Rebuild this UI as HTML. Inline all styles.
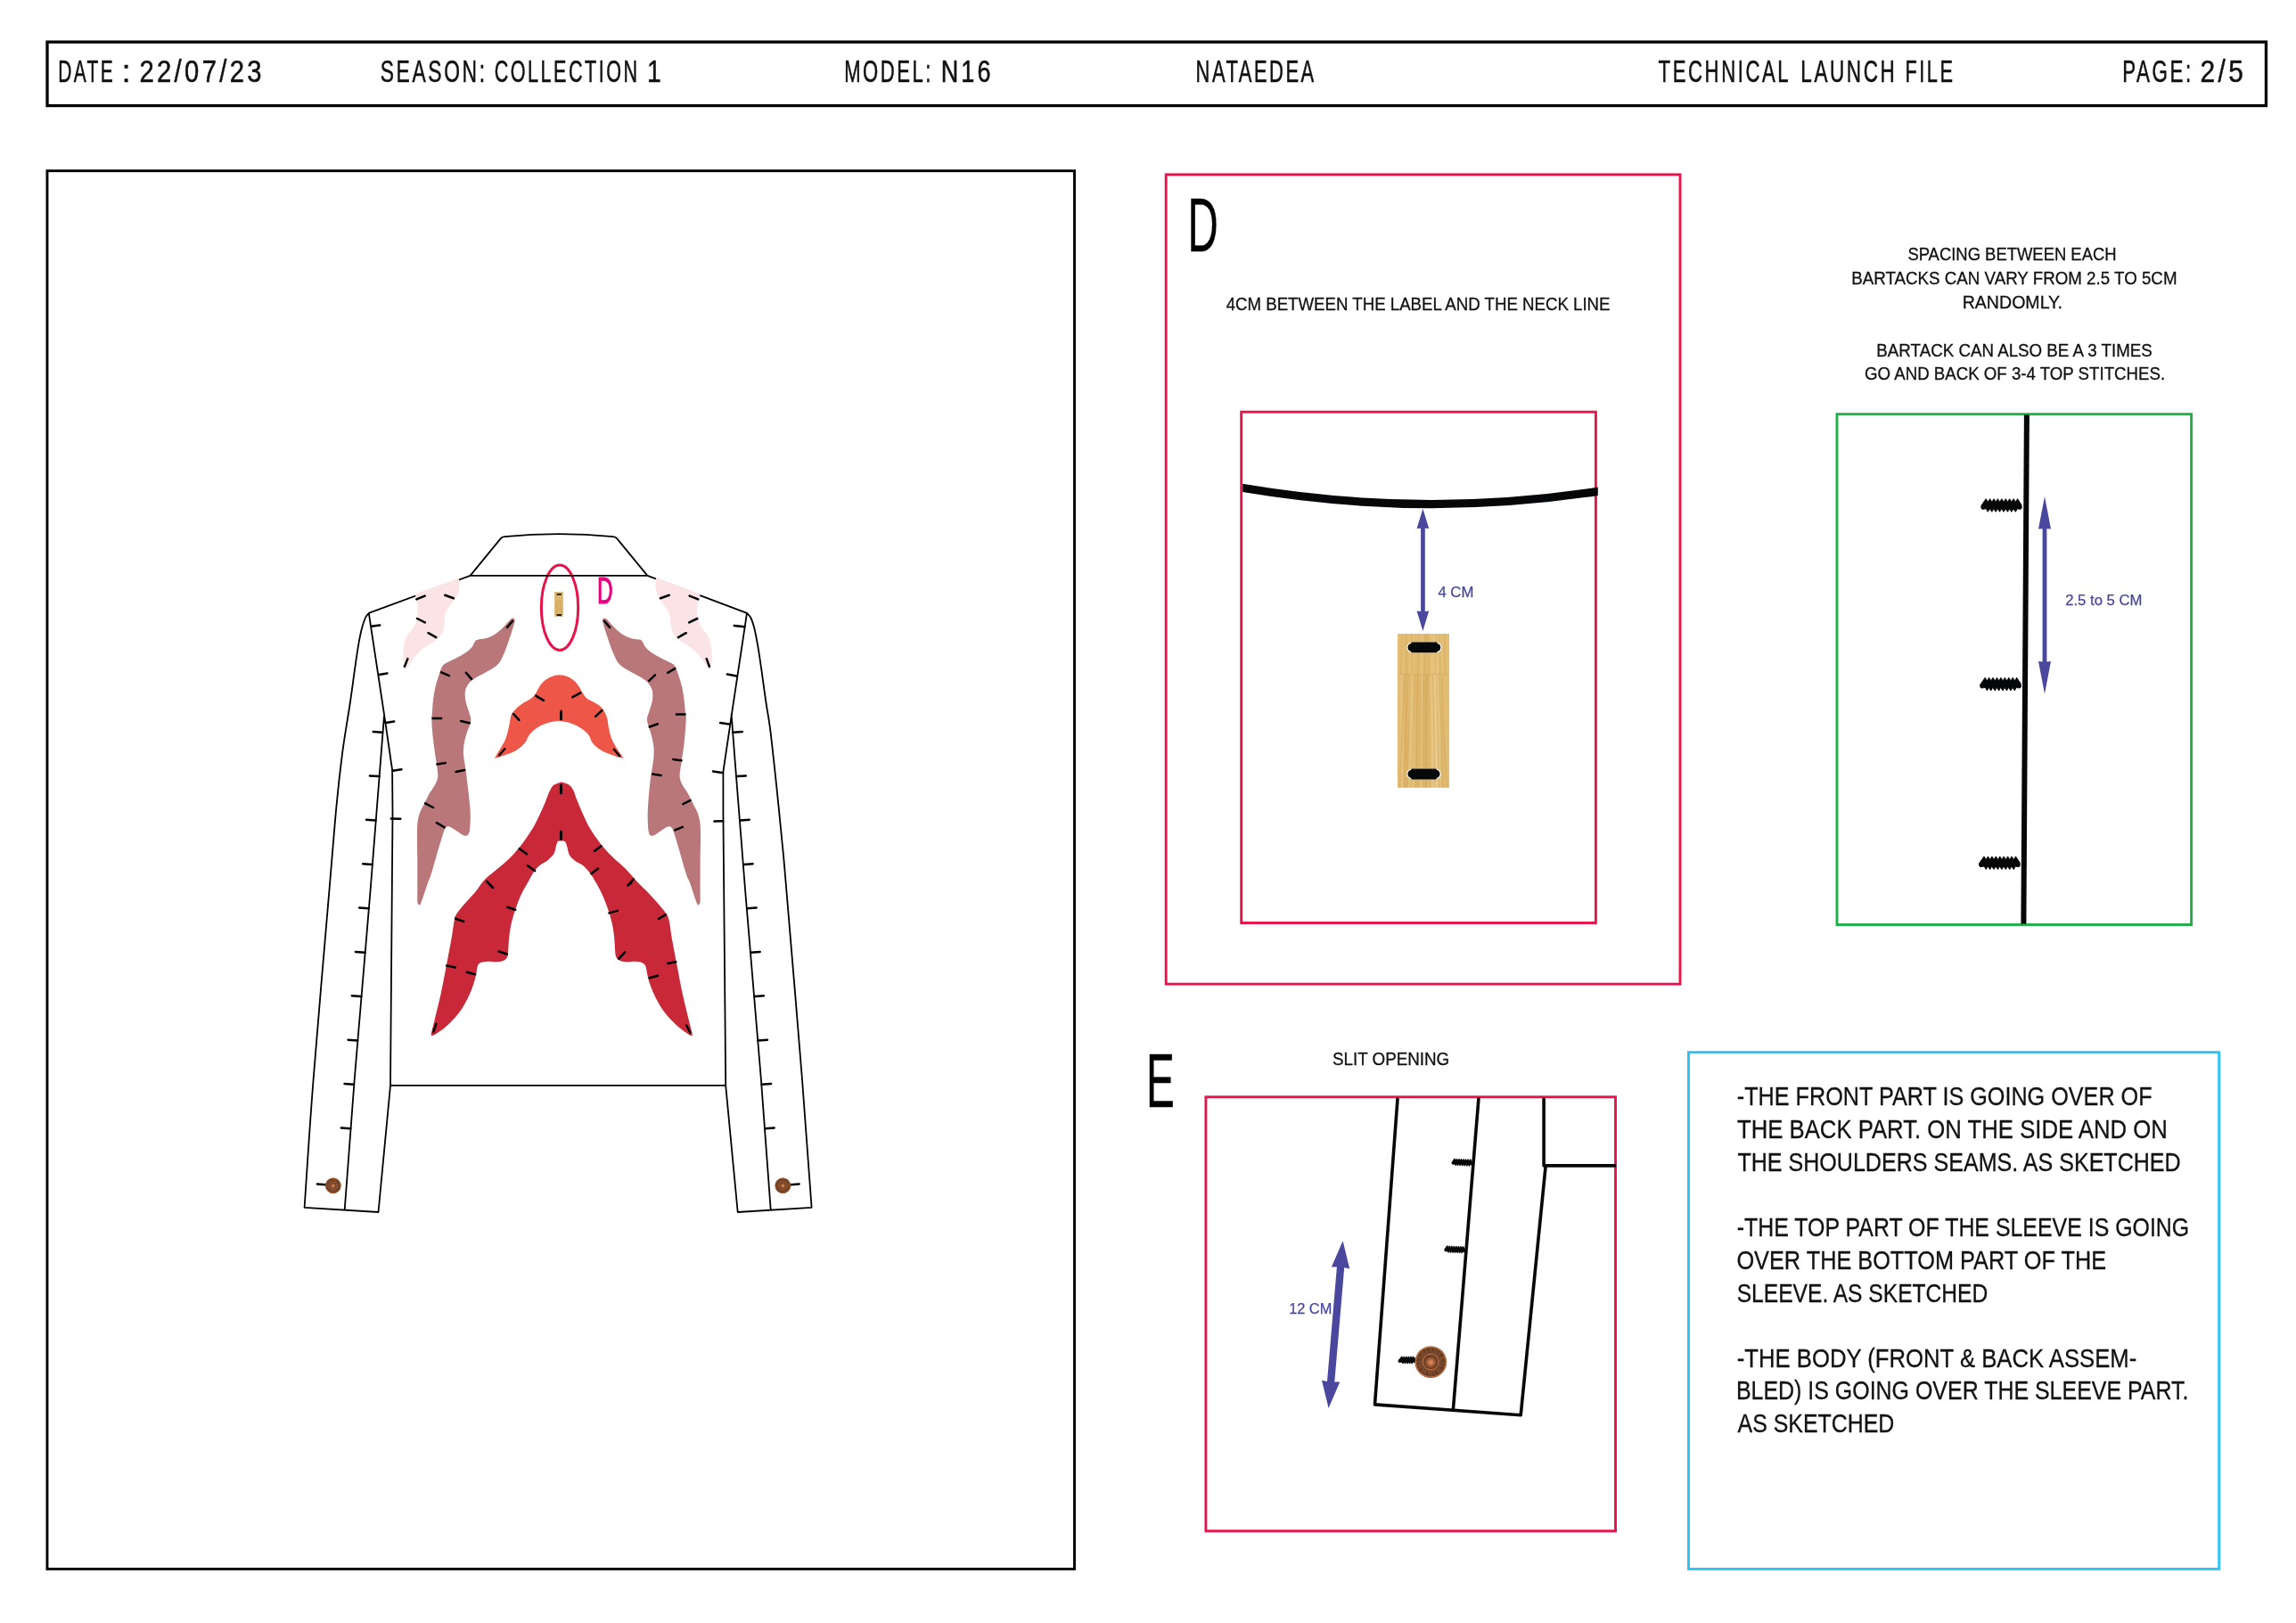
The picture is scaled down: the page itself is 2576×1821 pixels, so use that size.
<!DOCTYPE html>
<html lang="en">
<head>
<meta charset="utf-8">
<title>NATAEDEA - Technical Launch File - N16 - Page 2/5</title>
<style>
html,body{margin:0;padding:0;background:#fff;}
body{width:2576px;height:1821px;overflow:hidden;}
svg{display:block;will-change:transform;}
.hd{font-family:"Liberation Sans",sans-serif;letter-spacing:4px;fill:#111;stroke:#111;stroke-width:.55px;}
.tx{font-family:"Liberation Sans",sans-serif;fill:#111;stroke:#111;stroke-width:.3px;}
.pv{font-family:"Liberation Sans",sans-serif;fill:#48479c;stroke:#48479c;stroke-width:.25px;}
</style>
</head>
<body>
<svg width="2576" height="1821" viewBox="0 0 2576 1821">
<rect width="2576" height="1821" fill="#fff"/>
<!-- ===== HEADER ===== -->
<g id="header">
<rect x="53" y="47.1" width="2489.45" height="71.45" fill="none" stroke="#000" stroke-width="3.3"/>
</g>
<!-- ===== FRAMES ===== -->
<g id="frames" fill="none">
<rect x="52.95" y="191.7" width="1152.55" height="1568.7" stroke="#000" stroke-width="2.9"/>
<rect x="1308.2" y="195.9" width="576.8" height="908.2" stroke="#e9124a" stroke-width="2.9"/>
<rect x="1392.7" y="462.2" width="397.7" height="573.3" stroke="#e9124a" stroke-width="2.9"/>
<rect x="2061" y="464.7" width="397.6" height="572.8" stroke="#20ae47" stroke-width="2.9"/>
<rect x="1352.9" y="1230.8" width="459.6" height="487" stroke="#e9124a" stroke-width="2.9"/>
<rect x="1894.5" y="1180.7" width="595.2" height="579.7" stroke="#2cc3f2" stroke-width="2.9"/>
</g>
<!--JACKET_START-->
<g id="jacket">
<g id="jacket-patches">
<ellipse cx="628" cy="681.7" rx="20.65" ry="47.7" fill="none" stroke="#e9124a" stroke-width="3"/>
<path d="M527.6 645.9L561.6 604.4Q563.2 602.4 566 602.2Q627 596 688 602.2Q690.6 602.4 692.1 604.2L726.4 645.9ZM527.6 645.9L413.8 687.9M726.4 645.9L838 687.9M413.8 687.9C413.2 688.8 411.3 690.1 410.0 693.0C408.7 695.9 407.3 699.8 405.9 705.2C404.5 710.6 403.1 717.7 401.8 725.6C400.5 733.5 399.3 742.0 397.8 752.7C396.3 763.4 394.9 774.8 392.6 790.0C390.3 805.2 386.7 825.0 384.2 844.2C381.7 863.4 379.7 880.9 377.4 905.2C375.1 929.5 374.5 939.2 370.2 990.0C365.9 1040.8 356.5 1149.2 351.7 1210.0C346.9 1270.8 343.3 1330.7 341.6 1354.8M341.6 1354.8L424.5 1360L438 1218M413.8 687.9L431.4 804.2L440.1 863.9L440.5 912.0L438.0 1217.9M431.0 803.0L415.5 1000.0L397.8 1210.0L386.7 1357.3M438 1217.9L814.2 1217.9M838.0 687.9C838.7 688.8 840.9 690.1 842.3 693.0C843.7 695.9 845.0 699.8 846.4 705.2C847.8 710.6 849.0 717.7 850.4 725.6C851.8 733.5 853.0 742.0 854.5 752.7C856.0 763.4 858.1 779.3 859.7 790.0C861.3 800.7 862.1 802.4 864.0 817.1C865.9 831.8 868.5 856.6 870.8 878.1C873.1 899.6 875.8 927.2 877.6 945.9C879.4 964.5 877.9 946.0 881.6 990.0C885.3 1034.0 895.1 1149.2 899.9 1210.0C904.7 1270.8 908.8 1330.7 910.6 1354.8M910.6 1354.8L827.7 1360L814.2 1218M838.0 687.9L820.6 803.6L811.4 865.9L811.4 912.0L814.2 1217.9M820.6 801.5L826.0 871.3L836.2 1000.0L853.8 1210.0L864.7 1357.3" fill="none" stroke="#000" stroke-width="1.8" stroke-linejoin="round" stroke-linecap="round"/>
<path d="M465.7 666.6L514.9 648.4C515.0 650.0 515.6 654.9 515.4 657.8C515.2 660.7 514.8 663.2 513.7 665.9C512.6 668.6 510.7 671.3 508.9 674.0C507.1 676.8 504.4 679.7 502.8 682.2C501.2 684.7 500.1 686.5 499.4 689.0C498.8 691.4 499.1 694.4 498.8 697.1C498.4 699.8 498.2 702.5 497.4 705.2C496.6 707.9 495.7 711.0 494.0 713.3C492.3 715.7 489.7 717.6 487.2 719.4C484.8 721.3 481.8 722.3 479.1 724.2C476.4 726.1 473.7 728.3 471.0 731.0C468.3 733.7 465.2 737.4 462.8 740.5C460.5 743.5 458.1 747.4 456.7 749.3C455.4 751.1 455.0 751.2 454.7 751.6C454.5 751.1 453.7 750.7 453.3 748.6C453.0 746.5 452.8 742.3 452.7 739.1C452.6 735.9 452.4 732.8 452.7 729.6C452.9 726.5 453.2 723.1 454.0 720.1C454.8 717.2 455.8 714.6 457.4 712.0C459.0 709.4 461.9 707.0 463.5 704.5C465.1 702.1 466.1 699.7 466.9 697.1C467.7 694.5 468.0 691.9 468.3 689.0C468.5 686.0 468.7 682.2 468.5 679.5C468.4 676.8 467.6 674.8 467.2 672.7C466.7 670.5 465.9 667.6 465.7 666.6Z" fill="#fce3e5"/>
<path d="M785.9 666.6L736.0 648.0C735.9 649.6 735.3 654.8 735.5 657.8C735.7 660.8 736.3 663.2 737.2 665.9C738.2 668.6 739.6 671.3 741.3 674.0C743.0 676.8 745.8 679.7 747.4 682.2C749.1 684.7 750.4 686.5 751.2 689.0C752.0 691.4 751.8 694.4 752.2 697.1C752.5 699.8 752.7 702.5 753.5 705.2C754.3 707.9 755.2 711.0 756.9 713.3C758.6 715.7 761.2 717.6 763.7 719.4C766.2 721.3 769.1 722.3 771.8 724.2C774.5 726.1 777.2 728.3 779.9 731.0C782.7 733.7 785.7 737.4 788.1 740.5C790.5 743.5 792.8 747.4 794.2 749.3C795.5 751.1 795.9 751.2 796.2 751.6C796.5 751.1 797.4 750.7 797.8 748.6C798.2 746.5 798.6 742.3 798.7 739.1C798.7 735.9 798.5 732.8 798.2 729.6C798.0 726.5 797.7 723.1 796.9 720.1C796.1 717.2 795.1 714.6 793.5 712.0C791.9 709.4 789.0 707.0 787.4 704.5C785.8 702.1 784.8 699.7 784.0 697.1C783.2 694.5 782.7 691.9 782.4 689.0C782.1 686.0 782.2 682.2 782.4 679.5C782.6 676.8 783.2 674.8 783.7 672.7C784.3 670.5 785.6 667.6 785.9 666.6Z" fill="#fce3e5"/>
<path d="M575.1 693.4C574.3 693.5 574.2 693.5 572.6 695.1C571.1 696.6 568.3 700.0 565.9 702.5C563.4 705.0 560.4 707.9 557.7 710.0C555.0 712.0 552.3 713.6 549.6 714.7C546.9 715.8 543.9 716.2 541.5 716.7C539.0 717.3 536.3 717.3 534.7 718.1C533.1 718.9 532.9 720.1 532.0 721.5C531.1 722.8 530.8 724.4 529.3 726.2C527.7 728.0 525.4 730.3 522.5 732.3C519.5 734.4 515.2 736.5 511.6 738.4C508.0 740.3 503.4 742.3 500.8 743.8C498.2 745.4 497.4 745.8 496.0 747.9C494.7 750.1 493.9 753.0 492.7 756.7C491.4 760.5 489.7 765.3 488.6 770.3C487.5 775.2 486.5 781.3 485.9 786.5C485.2 791.7 485.1 798.6 484.8 801.5C484.5 804.3 484.3 800.9 484.3 803.6C484.3 806.2 484.4 811.9 484.8 817.1C485.2 822.3 485.8 828.6 486.6 834.7C487.3 840.8 488.5 847.8 489.3 853.7C490.1 859.6 491.4 865.7 491.3 870.0C491.2 874.3 490.2 876.1 488.6 879.5C487.0 882.9 484.0 886.5 481.8 890.3C479.7 894.1 477.5 898.9 475.7 902.5C473.9 906.1 472.2 908.6 471.0 912.0C469.8 915.4 469.0 918.3 468.5 922.8C468.0 927.4 468.0 931.9 468.0 939.1C467.9 946.3 468.2 956.0 468.3 966.2C468.3 976.4 468.3 993.9 468.3 1000.1C468.3 1006.3 468.2 1001.5 468.3 1003.6C468.3 1005.6 468.1 1010.5 468.4 1012.4C468.7 1014.3 469.5 1014.8 470.2 1014.9C470.8 1015.1 470.5 1017.5 472.2 1013.3C473.9 1009.2 478.4 995.1 480.2 990.0C482.0 984.9 481.5 987.6 483.2 982.5C484.8 977.4 487.8 966.7 489.9 959.4C492.1 952.2 494.5 944.1 496.0 939.1C497.6 934.1 498.2 931.6 499.4 929.6C500.7 927.6 501.7 926.9 503.5 927.2C505.3 927.4 507.8 929.4 510.3 931.0C512.8 932.5 516.3 935.3 518.4 936.4C520.6 937.5 521.8 938.2 523.2 937.7C524.5 937.3 525.8 936.2 526.5 933.7C527.3 931.2 527.4 926.9 527.6 922.8C527.8 918.8 527.9 914.5 527.6 909.3C527.3 904.1 526.5 897.5 525.9 891.7C525.2 885.8 524.5 879.5 523.8 874.0C523.2 868.6 522.4 863.6 521.8 859.1C521.2 854.6 520.3 850.8 520.0 846.9C519.8 843.1 519.9 839.9 520.4 836.1C521.0 832.2 522.0 827.7 523.2 823.9C524.3 820.0 526.4 816.0 527.2 813.0C528.1 810.1 528.4 808.8 528.2 806.3C527.9 803.8 526.9 801.6 525.9 798.1C524.9 794.6 522.8 789.2 522.2 785.2C521.6 781.2 521.5 777.5 522.2 774.3C522.9 771.2 524.7 768.5 526.5 766.2C528.4 764.0 530.4 762.7 533.3 760.8C536.3 758.9 540.8 756.6 544.2 754.7C547.6 752.8 550.9 751.2 553.7 749.3C556.4 747.3 558.4 746.0 560.4 743.2C562.5 740.3 564.3 735.9 565.9 732.3C567.4 728.7 568.6 725.3 569.9 721.5C571.3 717.6 572.7 713.2 574.0 709.3C575.2 705.3 576.8 700.2 577.4 697.8C577.9 695.3 577.6 695.4 577.2 694.6C576.9 693.9 575.8 693.4 575.1 693.4Z" fill="#ba7779"/>
<path d="M678.6 693.7C679.3 693.8 679.5 693.6 681.0 695.1C682.5 696.5 685.3 700.0 687.8 702.5C690.3 705.0 693.2 707.9 695.9 710.0C698.6 712.0 701.3 713.5 704.0 714.7C706.8 715.9 709.7 716.6 712.2 717.1C714.7 717.7 717.3 717.3 719.0 718.1C720.6 718.9 721.0 720.8 721.9 722.2C722.8 723.5 722.8 724.5 724.4 726.2C725.9 727.9 728.2 730.3 731.1 732.3C734.1 734.4 738.4 736.5 742.0 738.4C745.6 740.3 750.2 742.3 752.8 743.8C755.4 745.4 756.2 745.8 757.6 747.9C758.9 750.1 759.7 753.0 761.0 756.7C762.2 760.5 763.9 765.3 765.0 770.3C766.2 775.2 767.1 781.3 767.7 786.5C768.4 791.7 768.8 798.6 769.1 801.5C769.4 804.3 769.8 800.9 769.8 803.6C769.8 806.2 769.5 811.9 769.1 817.1C768.7 822.3 768.2 828.6 767.5 834.7C766.8 840.8 765.6 847.8 764.8 853.7C764.0 859.6 762.6 865.7 762.6 870.0C762.6 874.3 763.5 876.1 765.0 879.5C766.6 882.9 769.7 886.5 771.8 890.3C774.0 894.1 776.1 898.9 777.9 902.5C779.7 906.1 781.4 908.6 782.7 912.0C783.9 915.4 784.8 918.3 785.4 922.8C785.9 927.4 786.0 931.9 786.0 939.1C786.1 946.3 785.7 956.0 785.6 966.2C785.6 976.4 785.6 993.9 785.6 1000.1C785.6 1006.3 785.7 1001.5 785.6 1003.6C785.6 1005.6 785.8 1010.5 785.5 1012.4C785.2 1014.3 784.4 1014.8 783.7 1014.9C783.1 1015.1 783.5 1017.5 781.8 1013.3C780.2 1009.2 775.7 995.1 773.8 990.0C772.0 984.9 772.2 987.6 770.5 982.5C768.8 977.4 765.8 966.7 763.7 959.4C761.5 952.2 759.2 944.1 757.6 939.1C756.0 934.1 755.4 931.6 754.2 929.6C753.0 927.6 751.9 926.9 750.1 927.2C748.3 927.4 745.8 929.4 743.3 931.0C740.9 932.5 737.4 935.3 735.2 936.4C733.1 937.5 731.7 938.2 730.5 937.7C729.2 937.3 728.4 936.2 727.8 933.7C727.2 931.2 727.0 926.9 726.8 922.8C726.7 918.8 726.6 914.5 726.8 909.3C727.0 904.1 727.5 897.5 728.0 891.7C728.5 885.8 729.1 879.5 729.8 874.0C730.5 868.6 731.6 863.6 732.2 859.1C732.9 854.6 733.4 850.8 733.6 846.9C733.7 843.1 733.7 839.9 733.2 836.1C732.7 832.2 731.5 827.7 730.5 823.9C729.5 820.0 727.8 816.0 727.1 813.0C726.3 810.1 725.8 808.8 726.0 806.3C726.2 803.8 727.4 801.6 728.4 798.1C729.4 794.6 731.4 789.2 732.0 785.2C732.5 781.2 732.5 777.5 731.7 774.3C730.9 771.2 729.0 768.5 727.1 766.2C725.2 764.0 723.2 762.7 720.3 760.8C717.4 758.9 712.9 756.6 709.5 754.7C706.1 752.8 702.7 751.2 700.0 749.3C697.3 747.3 695.2 746.0 693.2 743.2C691.2 740.3 689.4 735.9 687.8 732.3C686.2 728.7 685.1 725.3 683.7 721.5C682.4 717.6 680.9 713.2 679.6 709.3C678.4 705.3 676.8 700.2 676.3 697.8C675.7 695.3 676.0 695.3 676.4 694.6C676.8 694.0 677.8 693.6 678.6 693.7Z" fill="#ba7779"/>
<path d="M555.0 850.6C555.9 849.1 558.4 845.1 560.4 841.5C562.5 838.0 565.5 833.4 567.2 829.3C568.9 825.2 569.7 821.0 570.6 817.1C571.5 813.3 572.1 808.9 572.6 806.3C573.2 803.7 572.9 803.4 574.0 801.5C575.1 799.5 577.2 796.8 579.4 794.7C581.7 792.5 584.8 790.4 587.5 788.6C590.3 786.8 593.4 785.6 595.7 783.8C597.9 782.0 599.4 780.1 601.1 777.7C602.8 775.4 604.1 772.0 605.8 769.6C607.5 767.2 609.1 765.2 611.3 763.5C613.4 761.8 616.0 760.2 618.7 759.2C621.4 758.1 624.4 757.3 627.5 757.3C630.5 757.3 634.2 758.1 636.9 759.2C639.7 760.2 641.7 761.8 643.7 763.5C645.8 765.2 647.4 767.2 649.1 769.6C650.8 772.0 652.3 775.4 653.9 777.7C655.5 780.1 656.4 782.0 658.6 783.8C660.9 785.6 664.6 786.8 667.4 788.6C670.3 790.4 673.3 792.0 675.6 794.7C677.8 797.4 679.8 801.2 681.0 804.9C682.2 808.6 682.1 813.0 683.0 817.1C683.9 821.2 684.7 825.2 686.4 829.3C688.1 833.4 691.0 838.0 693.2 841.5C695.4 845.1 698.6 849.1 699.7 850.6C698.6 850.4 696.1 850.2 693.2 849.4C690.3 848.5 685.7 847.0 682.4 845.6C679.0 844.2 675.8 842.9 672.9 840.8C669.9 838.8 666.9 836.2 664.7 833.4C662.6 830.6 662.5 826.8 660.0 823.9C657.5 821.0 653.3 817.9 649.8 815.8C646.3 813.6 642.6 812.1 639.0 811.0C635.4 809.9 629.7 809.4 628.1 809.0C626.6 808.6 630.0 808.7 629.6 808.7C629.1 808.7 628.0 808.6 625.5 809.0C623.0 809.4 618.3 809.9 614.7 811.0C611.0 812.1 607.2 813.6 603.8 815.8C600.4 817.9 596.8 821.0 594.3 823.9C591.8 826.8 591.2 830.6 588.9 833.4C586.6 836.2 583.7 838.8 580.8 840.8C577.8 842.9 574.7 844.2 571.3 845.6C567.9 847.0 563.1 848.5 560.4 849.4C557.7 850.2 555.9 850.4 555.0 850.6Z" fill="#ee5648"/>
<path d="M629.6 877.4C628.2 878.0 623.6 879.1 621.4 880.8C619.3 882.5 618.3 884.4 616.7 887.6C615.1 890.8 613.6 895.7 611.9 899.8C610.2 903.9 608.8 907.2 606.5 912.0C604.3 916.7 601.5 922.8 598.4 928.3C595.2 933.7 591.6 939.1 587.5 944.5C583.5 949.9 578.5 956.0 574.0 960.8C569.5 965.5 565.4 968.7 560.4 973.0C555.5 977.3 548.7 981.9 544.2 986.5C539.6 991.2 537.4 996.0 533.3 1000.8C529.3 1005.7 523.4 1011.5 519.8 1015.8C516.2 1020.0 513.3 1023.7 511.6 1026.6C509.9 1029.5 510.5 1028.6 509.6 1033.4C508.7 1038.1 507.7 1046.7 506.2 1055.1C504.7 1063.4 502.7 1073.6 500.8 1083.5C498.9 1093.5 496.8 1104.8 494.7 1114.7C492.5 1124.6 489.7 1135.7 487.9 1143.2C486.1 1150.6 484.5 1156.3 483.8 1159.4C483.2 1162.6 484.2 1161.5 484.3 1161.9C484.8 1161.7 484.7 1162.6 487.2 1161.1C489.8 1159.5 495.4 1156.1 499.4 1152.7C503.5 1149.2 508.0 1144.8 511.6 1140.5C515.2 1136.2 518.4 1131.4 521.1 1126.9C523.8 1122.4 526.0 1117.9 527.9 1113.3C529.8 1108.8 531.5 1103.6 532.6 1099.8C533.8 1096.0 534.1 1093.0 534.7 1090.3C535.2 1087.6 535.2 1085.2 536.0 1083.5C536.8 1081.8 537.6 1080.9 539.4 1080.1C541.2 1079.3 543.8 1078.9 546.9 1078.8C549.9 1078.6 554.7 1079.3 557.7 1079.2C560.8 1079.0 563.3 1078.8 565.2 1077.8C567.1 1076.9 568.4 1075.4 569.2 1073.4C570.1 1071.4 569.9 1069.6 570.2 1065.9C570.5 1062.2 570.6 1056.2 571.3 1051.0C571.9 1045.8 572.7 1040.0 574.0 1034.7C575.2 1029.4 576.9 1024.3 578.7 1019.1C580.5 1013.9 582.6 1008.4 584.8 1003.6C587.1 998.7 589.8 994.4 592.3 990.0C594.8 985.6 597.4 980.3 599.7 977.1C602.1 973.8 604.0 972.3 606.5 970.3C609.0 968.2 612.2 966.9 614.7 964.9C617.1 962.8 619.8 960.8 621.4 958.1C623.0 955.4 623.4 950.9 624.1 948.6C624.9 946.3 624.9 945.1 625.8 944.3C626.7 943.4 628.2 943.6 629.6 943.6C630.9 943.6 632.8 943.2 634.0 944.3C635.1 945.3 635.4 947.4 636.3 949.9C637.1 952.5 637.4 956.7 639.0 959.4C640.6 962.1 643.3 964.3 645.8 966.2C648.2 968.1 651.2 968.7 653.9 971.0C656.6 973.2 659.5 976.5 662.0 979.8C664.5 983.0 666.5 986.6 668.8 990.6C671.1 994.6 673.4 998.8 675.6 1003.6C677.7 1008.3 679.9 1013.9 681.7 1019.1C683.5 1024.3 685.2 1029.4 686.4 1034.7C687.7 1040.0 688.5 1045.8 689.1 1051.0C689.7 1056.2 689.7 1062.2 690.1 1065.9C690.4 1069.6 690.3 1071.4 691.2 1073.4C692.0 1075.4 693.3 1076.9 695.2 1077.8C697.1 1078.8 699.6 1079.0 702.7 1079.2C705.7 1079.3 710.5 1078.6 713.5 1078.8C716.6 1079.0 719.2 1079.6 721.0 1080.5C722.8 1081.5 723.6 1082.6 724.4 1084.2C725.2 1085.8 725.2 1087.7 725.7 1090.3C726.3 1092.9 726.6 1096.1 727.8 1099.8C728.9 1103.5 730.6 1108.3 732.5 1112.7C734.4 1117.1 736.6 1121.7 739.3 1126.2C742.0 1130.7 745.2 1135.5 748.8 1139.8C752.4 1144.1 756.9 1148.4 761.0 1152.0C765.0 1155.5 770.6 1159.4 773.2 1161.1C775.7 1162.7 775.7 1161.7 776.2 1161.9C776.2 1161.5 777.2 1162.6 776.6 1159.4C775.9 1156.3 774.3 1150.6 772.5 1143.2C770.7 1135.7 767.9 1124.6 765.7 1114.7C763.6 1104.8 761.5 1093.5 759.6 1083.5C757.7 1073.6 755.7 1063.4 754.2 1055.1C752.7 1046.7 751.9 1038.3 750.8 1033.4C749.7 1028.4 749.3 1028.3 747.4 1025.2C745.5 1022.2 742.7 1019.0 739.3 1015.1C735.9 1011.1 730.9 1005.5 727.1 1001.5C723.3 997.5 720.8 995.6 716.5 991.1C712.2 986.6 706.1 979.2 701.3 974.3C696.5 969.5 692.3 966.7 687.8 962.1C683.3 957.6 678.5 952.7 674.2 947.2C669.9 941.8 665.4 935.3 662.0 929.6C658.6 924.0 656.4 918.8 653.9 913.3C651.4 907.9 648.9 901.6 647.1 897.1C645.3 892.6 644.6 889.1 643.0 886.2C641.5 883.4 639.8 881.6 637.6 880.1C635.5 878.7 631.5 877.9 630.2 877.4C628.8 877.0 629.7 877.4 629.6 877.4Z" fill="#c82838"/>
</g>
<path id="jacket-bartacks" d="M467.3 672.4 L476.7 668.6 M499.2 667.8 L508.9 671.3 M468.0 694.0 L476.8 698.4 M480.5 710.2 L489.3 715.1 M453.9 747.9 L457.4 739.1 M741.0 671.3 L750.8 667.8 M773.6 668.6 L783.3 672.4 M773.2 698.4 L782.3 694.0 M761.0 715.1 L769.8 710.2 M792.7 739.1 L795.9 747.9 M569.0 703.9 L575.1 696.8 M495.1 754.3 L503.9 758.2 M522.9 754.7 L529.0 761.9 M485.6 806.0 L495.1 806.0 M517.1 809.0 L526.8 811.3 M490.4 857.6 L499.8 855.9 M511.6 865.9 L521.1 864.0 M477.1 901.4 L485.9 906.0 M489.9 923.1 L498.5 928.3 M678.0 696.8 L684.1 703.9 M749.2 754.8 L757.2 750.1 M728.2 763.8 L734.9 757.4 M758.9 801.5 L768.6 801.5 M728.8 815.5 L737.9 812.2 M755.3 851.9 L764.5 853.3 M732.2 868.6 L741.7 870.0 M766.4 902.2 L774.5 898.0 M757.3 931.4 L765.9 927.9 M576.0 801.0 L582.4 807.9 M629.6 798.1 L629.6 807.1 M560.2 847.2 L566.3 840.2 M601.5 780.9 L609.9 785.9 M642.4 782.2 L651.2 777.3 M629.5 798.1 L629.2 807.1 M668.1 803.8 L675.3 797.2 M688.9 840.8 L695.0 848.0 M629.6 881.1 L629.6 890.0 M629.6 932.9 L629.6 941.5 M582.8 952.3 L591.1 958.2 M592.0 971.2 L600.1 977.1 M546.2 988.9 L553.1 996.0 M629.2 881.1 L629.2 890.0 M629.2 932.9 L629.2 941.5 M667.0 954.8 L674.6 949.3 M663.4 980.2 L671.0 974.6 M704.3 993.3 L710.8 986.5 M547.3 990.4 L552.7 995.8 M569.2 1017.7 L578.1 1020.8 M511.1 1030.7 L520.2 1033.9 M559.5 1067.5 L568.8 1070.5 M501.2 1083.5 L510.7 1085.4 M523.8 1090.8 L533.1 1093.2 M486.4 1157.5 L489.4 1148.9 M704.4 993.5 L708.5 990.3 M683.4 1024.4 L692.9 1021.9 M739.0 1030.8 L747.1 1026.2 M694.3 1075.7 L701.1 1068.3 M749.2 1081.0 L758.3 1079.2 M728.8 1097.2 L737.9 1094.8 M770.1 1150.2 L774.3 1158.5 M416.5 702.8 L426.2 701.6 M425.3 756.9 L434.4 755.5 M432.7 810.9 L442.2 809.5 M440.9 864.8 L450.4 863.3 M438.8 918.5 L449.3 918.8 M823.7 702.0 L835.3 703.2 M815.9 756.6 L826.4 758.4 M808.1 811.1 L818.0 812.6 M800.0 865.4 L810.2 866.9 M801.4 921.5 L811.1 921.2 M418.7 821.0 L429.2 821.8 M822.4 821.8 L832.9 821.0 M414.9 870.4 L425.4 871.1 M826.3 871.1 L836.8 870.4 M411.0 919.8 L421.5 920.5 M830.2 920.5 L840.7 919.8 M407.1 969.2 L417.6 970.0 M834.1 970.0 L844.6 969.2 M403.1 1018.5 L413.6 1019.2 M838.1 1019.2 L848.6 1018.5 M398.9 1067.9 L409.4 1068.7 M842.2 1068.7 L852.7 1067.9 M394.8 1117.2 L405.3 1118.0 M846.4 1118.0 L856.9 1117.2 M390.6 1166.8 L401.1 1167.5 M850.5 1167.5 L861.0 1166.8 M386.5 1216.0 L397.0 1216.8 M854.6 1216.8 L865.1 1216.0 M382.8 1265.5 L393.3 1266.2 M858.2 1266.2 L868.7 1265.5 M355.9 1328.6L365.1 1329.2 M887.1 1329.2L896.6 1328.4" fill="none" stroke="#000" stroke-width="2.5" stroke-linecap="round"/>
<g><circle cx="373.8" cy="1330.3" r="8.90" fill="url(#btbody)"/><circle cx="373.8" cy="1330.3" r="8.28" fill="none" stroke="#c9753f" stroke-width=".7"/><circle cx="373.8" cy="1330.3" r="6.23" fill="none" stroke="#9a5e3b" stroke-width="1.1" stroke-dasharray="1 .8" opacity=".7"/><circle cx="373.8" cy="1330.3" r="4.09" fill="url(#btdome)" stroke="#cf7a45" stroke-width=".6"/></g>
<g><circle cx="878.3" cy="1330.3" r="8.90" fill="url(#btbody)"/><circle cx="878.3" cy="1330.3" r="8.28" fill="none" stroke="#c9753f" stroke-width=".7"/><circle cx="878.3" cy="1330.3" r="6.23" fill="none" stroke="#9a5e3b" stroke-width="1.1" stroke-dasharray="1 .8" opacity=".7"/><circle cx="878.3" cy="1330.3" r="4.09" fill="url(#btdome)" stroke="#cf7a45" stroke-width=".6"/></g>
<g id="neck-label"><rect x="622.1" y="664" width="9.8" height="28" fill="#dcb76f"/><path d="M623.6 688Q627 676 630.4 688M623.8 683Q627 671 630.2 683M624.2 678Q627 668 629.8 678" fill="none" stroke="#c49b52" stroke-width=".7"/><path d="M624.6 666.9L630 666.9M624.6 690L630 690" stroke="#1a1a1a" stroke-width="1.8"/></g>
<text font-family="&quot;Liberation Sans&quot;,sans-serif" font-size="42.4" fill="#e6007e" stroke="#e6007e" stroke-width="1.1" transform="translate(670.0,676.6) scale(0.575,1)">D</text>
</g>
<!--JACKET_END-->
<!--PANELS_START-->
<defs>
<radialGradient id="btbody" cx="50%" cy="50%" r="50%"><stop offset="0" stop-color="#7a4a2e"/><stop offset=".6" stop-color="#6f4229"/><stop offset=".93" stop-color="#5f371f"/><stop offset="1" stop-color="#7d482b"/></radialGradient>
<radialGradient id="btdome" cx="50%" cy="52%" r="50%"><stop offset="0" stop-color="#ea935d"/><stop offset=".35" stop-color="#b96a3e"/><stop offset=".75" stop-color="#6f4128"/><stop offset="1" stop-color="#55301c"/></radialGradient>
<linearGradient id="woodg" x1="0" y1="0" x2="1" y2="0">
<stop offset="0" stop-color="#dfb86d"/><stop offset=".08" stop-color="#e6c27c"/><stop offset=".16" stop-color="#dbb266"/><stop offset=".27" stop-color="#e7c680"/><stop offset=".36" stop-color="#ddb56a"/><stop offset=".47" stop-color="#e5c079"/><stop offset=".55" stop-color="#d9af64"/><stop offset=".66" stop-color="#e6c47f"/><stop offset=".76" stop-color="#e9cb8c"/><stop offset=".86" stop-color="#dfba70"/><stop offset="1" stop-color="#e2bd74"/>
</linearGradient>
</defs>

<g id="panel-d">
<text class="tx" font-size="85.5" style="fill:#000" stroke="#000" stroke-width="1.3" vector-effect="non-scaling-stroke" transform="translate(1332.6,282.3) scale(0.555,1)">D</text>
<clipPath id="neckclip"><rect x="1394.3" y="530" width="398.5" height="60"/></clipPath>
<path d="M1385 545.9 Q1596 583 1801 550" fill="none" stroke="#060708" stroke-width="9.2" clip-path="url(#neckclip)"/>
<path d="M1596.4 570.7L1603.2 593.1L1598.8 592.7L1598.8 685.9L1603.2 685.5L1596.4 707.9L1589.6 685.5L1594.1 685.9L1594.1 592.7L1589.6 593.1Z" fill="#4a489e"/>
<g id="woodlabel">
<rect x="1568.0" y="711.1" width="58.0" height="172.7" fill="url(#woodg)"/>
<rect x="1568.0" y="711.1" width="58.0" height="45.6" fill="#e3bf76" opacity=".55"/>
<path d="M1576.0 756.7Q1572.8 820.2 1570.5 883.8M1580.3 756.7Q1576.6 820.2 1575.5 883.8M1582.9 756.7Q1580.0 820.2 1578.6 883.8M1587.1 756.7Q1585.1 820.2 1583.4 883.8M1590.6 756.7Q1590.2 820.2 1588.9 883.8M1593.0 756.7Q1593.5 820.2 1591.8 883.8M1597.3 756.7Q1597.6 820.2 1596.8 883.8M1599.8 756.7Q1600.3 820.2 1600.2 883.8M1602.3 756.7Q1604.7 820.2 1605.0 883.8M1607.4 756.7Q1609.7 820.2 1609.6 883.8M1611.7 756.7Q1612.7 820.2 1614.4 883.8M1614.3 756.7Q1617.9 820.2 1618.9 883.8M1617.2 756.7Q1619.2 820.2 1623.4 883.8M1573.3 711.1Q1572.2 733.9 1571.4 756.7M1577.7 711.1Q1578.1 733.9 1578.5 756.7M1583.6 711.1Q1584.0 733.9 1584.2 756.7M1592.4 711.1Q1591.9 733.9 1590.8 756.7M1599.1 711.1Q1599.4 733.9 1597.7 756.7M1602.0 711.1Q1603.4 733.9 1603.3 756.7M1611.7 711.1Q1611.1 733.9 1610.1 756.7M1614.7 711.1Q1615.9 733.9 1615.8 756.7M1620.9 711.1Q1620.4 733.9 1621.7 756.7" fill="none" stroke="#cfa256" stroke-width="1.1" opacity=".55"/>
<path d="M1568.0 756.7L1624.0 756.7" stroke="#d2a65c" stroke-width=".8" opacity=".7"/>
<rect x="1578.2" y="720.7" width="39.3" height="11.5" rx="5.8" fill="#fff"/>
<rect x="1583.2" y="720.6" width="29.3" height="11.7" rx="1.0" fill="#06080a"/>
<rect x="1579.4" y="721.9" width="36.9" height="9.1" rx="4.6" fill="#06080a"/>
<rect x="1578.2" y="862.5" width="38.5" height="11.8" rx="5.9" fill="#fff"/>
<rect x="1583.2" y="862.4" width="28.5" height="12.0" rx="1.0" fill="#06080a"/>
<rect x="1579.4" y="863.7" width="36.1" height="9.4" rx="4.7" fill="#06080a"/>
</g>
</g>
<g id="panel-g">
<path d="M2273.9 465.5 L2270.4 1036.6" fill="none" stroke="#060708" stroke-width="6"/>
<path d="M2222.9 567.3L2228.1 559.7L2230.3 563.3L2232.6 559.7L2234.8 563.3L2237.0 559.7L2239.2 563.3L2241.4 559.7L2243.6 563.3L2245.8 559.7L2248.1 563.3L2250.3 559.7L2252.5 563.3L2254.7 559.7L2256.9 563.3L2259.1 559.7L2261.4 563.3L2263.6 559.7L2268.0 566.5L2268.2 570.3L2266.6 571.5L2263.3 570.7L2261.4 574.3L2258.8 570.7L2256.9 574.3L2254.4 570.7L2252.5 574.3L2250.0 570.7L2248.1 574.3L2245.5 570.7L2243.6 574.3L2241.1 570.7L2239.2 574.3L2236.7 570.7L2234.8 574.3L2232.3 570.7L2230.3 574.3L2228.3 570.7L2224.3 571.5L2222.9 570.3Z" fill="#060708" stroke="#060708" stroke-width="0.9" stroke-linejoin="round"/>
<path d="M2221.8 767.9L2227.2 760.3L2229.4 763.9L2231.6 760.3L2233.8 763.9L2236.0 760.3L2238.3 763.9L2240.5 760.3L2242.7 763.9L2244.9 760.3L2247.1 763.9L2249.3 760.3L2251.5 763.9L2253.8 760.3L2256.0 763.9L2258.2 760.3L2260.4 763.9L2262.6 760.3L2267.2 767.1L2267.4 770.9L2265.8 772.1L2262.3 771.3L2260.4 774.9L2257.9 771.3L2256.0 774.9L2253.5 771.3L2251.5 774.9L2249.0 771.3L2247.1 774.9L2244.6 771.3L2242.7 774.9L2240.2 771.3L2238.3 774.9L2235.7 771.3L2233.8 774.9L2231.3 771.3L2229.4 774.9L2227.4 771.3L2223.2 772.1L2221.8 770.9Z" fill="#060708" stroke="#060708" stroke-width="0.9" stroke-linejoin="round"/>
<path d="M2220.6 968.5L2226.0 960.9L2228.2 964.5L2230.5 960.9L2232.7 964.5L2234.9 960.9L2237.1 964.5L2239.3 960.9L2241.5 964.5L2243.8 960.9L2246.0 964.5L2248.2 960.9L2250.4 964.5L2252.6 960.9L2254.8 964.5L2257.0 960.9L2259.3 964.5L2261.5 960.9L2266.1 967.7L2266.3 971.5L2264.7 972.7L2261.2 971.9L2259.3 975.5L2256.7 971.9L2254.8 975.5L2252.3 971.9L2250.4 975.5L2247.9 971.9L2246.0 975.5L2243.4 971.9L2241.5 975.5L2239.0 971.9L2237.1 975.5L2234.6 971.9L2232.7 975.5L2230.2 971.9L2228.2 975.5L2226.2 971.9L2222.0 972.7L2220.6 971.5Z" fill="#060708" stroke="#060708" stroke-width="0.9" stroke-linejoin="round"/>
<path d="M2294.0 557.0L2301.0 593.6L2296.4 593.2L2296.4 742.4L2301.0 742.0L2294.0 778.6L2287.0 742.0L2291.6 742.4L2291.6 593.2L2287.0 593.6Z" fill="#4a489e"/>
</g>
<g id="panel-e">
<text class="tx" font-size="86" style="fill:#000" stroke="#000" stroke-width="1.2" vector-effect="non-scaling-stroke" transform="translate(1286.0,1241.6) scale(0.555,1)">E</text>
<g fill="none" stroke="#060708" stroke-width="3.6" stroke-linejoin="round" stroke-linecap="round">
<path d="M1568 1233 L1542.5 1575.9 L1706.2 1587.7 L1734 1309.5"/>
<path d="M1658.9 1233 L1630.4 1581.4"/>
<path d="M1732.1 1233 L1732.1 1307.9 L1811.6 1307.9"/>
</g>
<path d="M1629.0 1303.9L1631.9 1299.8L1633.2 1301.8L1634.4 1300.0L1635.7 1301.9L1637.0 1300.1L1638.3 1302.0L1639.5 1300.2L1640.8 1302.1L1642.1 1300.3L1643.4 1302.2L1644.6 1300.4L1645.9 1302.3L1647.2 1300.5L1648.5 1302.4L1649.7 1300.6L1652.2 1304.4L1652.3 1306.6L1651.4 1307.2L1649.6 1306.7L1648.5 1308.5L1647.0 1306.6L1645.9 1308.4L1644.5 1306.5L1643.4 1308.3L1641.9 1306.4L1640.8 1308.2L1639.4 1306.3L1638.3 1308.1L1636.8 1306.2L1635.7 1308.0L1634.3 1306.1L1633.2 1307.9L1632.0 1306.0L1629.8 1306.4L1629.0 1305.6Z" fill="#060708" stroke="#060708" stroke-width="0.7" stroke-linejoin="round"/>
<path d="M1620.8 1401.6L1623.7 1397.5L1625.0 1399.5L1626.2 1397.7L1627.5 1399.6L1628.8 1397.8L1630.1 1399.7L1631.3 1397.9L1632.6 1399.8L1633.9 1398.0L1635.2 1399.9L1636.4 1398.1L1637.7 1400.0L1639.0 1398.2L1640.3 1400.1L1641.5 1398.3L1644.0 1402.1L1644.1 1404.3L1643.2 1404.9L1641.4 1404.4L1640.3 1406.2L1638.8 1404.3L1637.7 1406.1L1636.3 1404.2L1635.2 1406.0L1633.7 1404.1L1632.6 1405.9L1631.2 1404.0L1630.1 1405.8L1628.6 1403.9L1627.5 1405.7L1626.1 1403.8L1625.0 1405.6L1623.8 1403.7L1621.6 1404.1L1620.8 1403.3Z" fill="#060708" stroke="#060708" stroke-width="0.7" stroke-linejoin="round"/>
<path d="M1569.0 1526.2L1572.8 1521.8L1574.1 1523.8L1575.3 1521.8L1576.6 1523.8L1577.9 1521.8L1579.2 1523.8L1580.4 1521.8L1581.7 1523.8L1583.0 1521.8L1584.3 1523.8L1585.5 1521.8L1588.9 1525.7L1589.0 1528.0L1588.1 1528.7L1585.4 1528.2L1584.3 1530.2L1582.8 1528.2L1581.7 1530.2L1580.3 1528.2L1579.2 1530.2L1577.7 1528.2L1576.6 1530.2L1575.2 1528.2L1574.1 1530.2L1572.9 1528.2L1569.8 1528.7L1569.0 1528.0Z" fill="#060708" stroke="#060708" stroke-width="0.7" stroke-linejoin="round"/>
<g><circle cx="1605.3" cy="1528.2" r="17.80" fill="url(#btbody)"/><path d="M1615.22 1529.20L1620.58 1529.06M1614.54 1531.95L1619.93 1532.70M1613.11 1534.40L1616.92 1538.17M1611.04 1536.35L1615.40 1539.70M1608.51 1537.64L1610.11 1542.73M1605.73 1538.16L1606.47 1543.46M1602.90 1537.88L1603.28 1543.37M1600.27 1536.81L1597.56 1541.41M1598.05 1535.04L1595.46 1539.92M1596.42 1532.73L1591.78 1535.37M1595.50 1530.04L1590.64 1532.62M1595.38 1527.20L1589.99 1528.24M1596.06 1524.45L1591.01 1522.71M1597.49 1522.00L1594.13 1517.73M1599.56 1520.05L1595.34 1516.57M1602.09 1518.76L1599.37 1514.09M1604.87 1518.24L1605.13 1512.89M1607.70 1518.52L1610.62 1513.85M1610.33 1519.59L1613.27 1515.13M1612.55 1521.36L1616.15 1517.41M1614.18 1523.67L1619.67 1522.92M1615.10 1526.36L1619.93 1523.69" stroke="#9a5e3b" stroke-width="1.30" stroke-linecap="round" opacity=".6" fill="none"/><circle cx="1605.3" cy="1528.2" r="16.82" fill="none" stroke="#d58049" stroke-width="1.50" stroke-dasharray="1.20 0.90"/><circle cx="1605.3" cy="1528.2" r="16.82" fill="none" stroke="#c9753f" stroke-width="0.70"/><circle cx="1605.3" cy="1528.2" r="8.72" fill="url(#btdome)" stroke="#d27d47" stroke-width="1.00"/></g>
<path d="M1506.6 1392.2L1493.9 1421.6L1499.9 1421.6L1489.0 1549.9L1483.0 1548.8L1490.6 1580.0L1503.3 1550.6L1497.3 1550.6L1508.2 1422.3L1514.2 1423.4Z" fill="#4a489e"/>
</g>
<!--PANELS_END-->
<!--TEXTS_START-->
<g id="texts">
<text id="h1" class="hd" font-size="34.7" x="65.34" y="92.10" textLength="63.79" lengthAdjust="spacingAndGlyphs">DATE</text>
<text id="h2" class="hd" font-size="34.7" x="136.66" y="92.10">:</text>
<text id="h3" class="hd" font-size="34.7" x="156.44" y="92.10" textLength="140.50" lengthAdjust="spacingAndGlyphs">22/07/23</text>
<text id="h4" class="hd" font-size="34.7" x="426.67" y="92.10" textLength="119.97" lengthAdjust="spacingAndGlyphs">SEASON:</text>
<text id="h5" class="hd" font-size="34.7" x="554.80" y="92.10" textLength="162.69" lengthAdjust="spacingAndGlyphs">COLLECTION</text>
<text id="h6" class="hd" font-size="34.7" x="725.90" y="92.10" textLength="18.98" lengthAdjust="spacingAndGlyphs">1</text>
<text id="h7" class="hd" font-size="34.7" x="947.17" y="92.10" textLength="99.88" lengthAdjust="spacingAndGlyphs">MODEL:</text>
<text id="h8" class="hd" font-size="34.7" x="1055.63" y="92.10" textLength="58.95" lengthAdjust="spacingAndGlyphs">N16</text>
<text id="h9" class="hd" font-size="34.7" x="1341.57" y="92.10" textLength="135.13" lengthAdjust="spacingAndGlyphs">NATAEDEA</text>
<text id="h10" class="hd" font-size="34.7" x="1860.60" y="92.10" textLength="148.66" lengthAdjust="spacingAndGlyphs">TECHNICAL</text>
<text id="h11" class="hd" font-size="34.7" x="2020.28" y="92.10" textLength="108.07" lengthAdjust="spacingAndGlyphs">LAUNCH</text>
<text id="h12" class="hd" font-size="34.7" x="2137.49" y="92.10" textLength="56.00" lengthAdjust="spacingAndGlyphs">FILE</text>
<text id="h13" class="hd" font-size="34.7" x="2381.24" y="92.10" textLength="79.44" lengthAdjust="spacingAndGlyphs">PAGE:</text>
<text id="h14" class="hd" font-size="34.7" x="2468.60" y="92.10" textLength="51.80" lengthAdjust="spacingAndGlyphs">2/5</text>
<text id="d1" class="tx" font-size="20.5" x="1375.63" y="347.50" textLength="430.91" lengthAdjust="spacingAndGlyphs">4CM BETWEEN THE LABEL AND THE NECK LINE</text>
<text id="d2" class="pv" font-size="17.2" x="1613.38" y="669.70" textLength="40.01" lengthAdjust="spacingAndGlyphs">4 CM</text>
<text id="g1" class="tx" font-size="20.5" x="2140.38" y="292.30" textLength="234.20" lengthAdjust="spacingAndGlyphs">SPACING BETWEEN EACH</text>
<text id="g2" class="tx" font-size="20.5" x="2077.24" y="319.30" textLength="365.28" lengthAdjust="spacingAndGlyphs">BARTACKS CAN VARY FROM 2.5 TO 5CM</text>
<text id="g3" class="tx" font-size="20.5" x="2201.69" y="346.10" textLength="112.37" lengthAdjust="spacingAndGlyphs">RANDOMLY.</text>
<text id="g4" class="tx" font-size="20.5" x="2105.37" y="399.80" textLength="309.45" lengthAdjust="spacingAndGlyphs">BARTACK CAN ALSO BE A 3 TIMES</text>
<text id="g5" class="tx" font-size="20.5" x="2092.04" y="426.40" textLength="337.06" lengthAdjust="spacingAndGlyphs">GO AND BACK OF 3-4 TOP STITCHES.</text>
<text id="g6" class="pv" font-size="17.2" x="2317.15" y="678.80" textLength="86.39" lengthAdjust="spacingAndGlyphs">2.5 to 5 CM</text>
<text id="e1" class="tx" font-size="20.5" x="1494.93" y="1195.00" textLength="131.29" lengthAdjust="spacingAndGlyphs">SLIT OPENING</text>
<text id="e2" class="pv" font-size="17.2" x="1446.13" y="1474.20" textLength="48.18" lengthAdjust="spacingAndGlyphs">12 CM</text>
<text id="b1" class="tx" font-size="30.1" x="1948.83" y="1240.10" textLength="465.78" lengthAdjust="spacingAndGlyphs">-THE FRONT PART IS GOING OVER OF</text>
<text id="b2" class="tx" font-size="30.1" x="1949.03" y="1276.60" textLength="482.84" lengthAdjust="spacingAndGlyphs">THE BACK PART. ON THE SIDE AND ON</text>
<text id="b3" class="tx" font-size="30.1" x="1949.42" y="1313.50" textLength="497.28" lengthAdjust="spacingAndGlyphs">THE SHOULDERS SEAMS. AS SKETCHED</text>
<text id="b4" class="tx" font-size="30.1" x="1948.76" y="1387.30" textLength="507.45" lengthAdjust="spacingAndGlyphs">-THE TOP PART OF THE SLEEVE IS GOING</text>
<text id="b5" class="tx" font-size="30.1" x="1948.40" y="1423.70" textLength="414.77" lengthAdjust="spacingAndGlyphs">OVER THE BOTTOM PART OF THE</text>
<text id="b6" class="tx" font-size="30.1" x="1948.72" y="1460.50" textLength="281.54" lengthAdjust="spacingAndGlyphs">SLEEVE. AS SKETCHED</text>
<text id="b7" class="tx" font-size="30.1" x="1948.74" y="1533.60" textLength="448.54" lengthAdjust="spacingAndGlyphs">-THE BODY (FRONT &amp; BACK ASSEM-</text>
<text id="b8" class="tx" font-size="30.1" x="1947.90" y="1570.40" textLength="507.53" lengthAdjust="spacingAndGlyphs">BLED) IS GOING OVER THE SLEEVE PART.</text>
<text id="b9" class="tx" font-size="30.1" x="1949.59" y="1607.00" textLength="175.75" lengthAdjust="spacingAndGlyphs">AS SKETCHED</text>
</g>
<!--TEXTS_END-->
</svg>
</body>
</html>
